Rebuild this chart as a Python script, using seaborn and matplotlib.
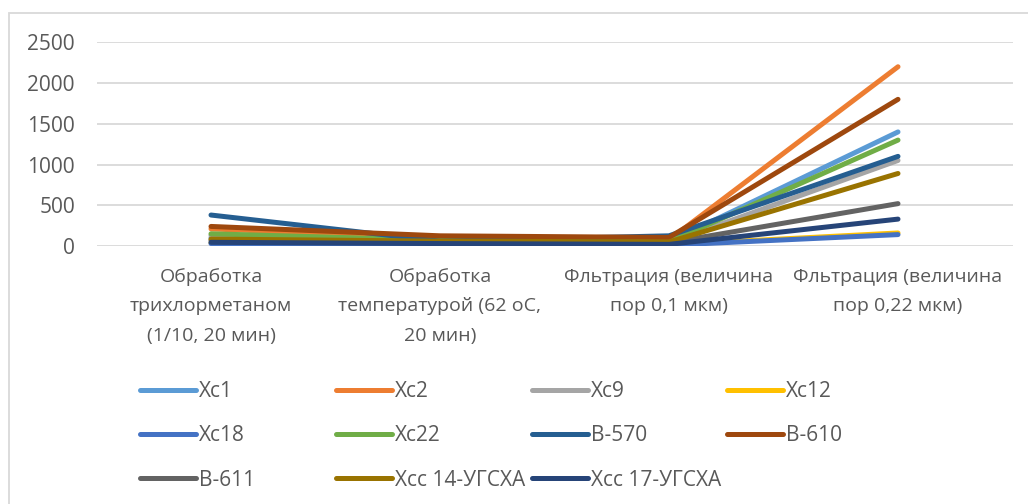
import matplotlib
matplotlib.use("Agg")
import matplotlib.pyplot as plt
from matplotlib.lines import Line2D
from matplotlib.patches import Rectangle
import seaborn as sns
import pandas as pd

# Treatment steps (x-axis categories)
categories = [
    "Обработка\nтрихлорметаном\n(1/10, 20 мин)",
    "Обработка\nтемпературой (62 оС,\n20 мин)",
    "Фльтрация (величина\nпор 0,1 мкм)",
    "Фльтрация (величина\nпор 0,22 мкм)",
]

# Strain names in drawing order
series_names = ["Xc1", "Xc2", "Xc9", "Xc12", "Xc18", "Xc22",
                "B-570", "B-610", "B-611", "Xcc 14-УГСХА", "Xcc 17-УГСХА"]

# Values for each strain across the four treatments
xc1 = [100, 60, 50, 1400]
xc2 = [210, 95, 75, 2200]
xc9 = [130, 50, 40, 1050]
xc12 = [40, 20, 15, 160]
xc18 = [30, 15, 10, 140]
xc22 = [150, 70, 50, 1300]
b570 = [380, 60, 125, 1100]
b610 = [240, 125, 105, 1800]
b611 = [70, 50, 40, 520]
xcc14 = [85, 60, 50, 890]
xcc17 = [45, 30, 20, 330]

series_values = [xc1, xc2, xc9, xc12, xc18, xc22, b570, b610, b611, xcc14, xcc17]

colors = ["#5B9BD5", "#ED7D31", "#A5A5A5", "#FFC000", "#4472C4", "#70AD47",
          "#255E91", "#9E480E", "#636363", "#997300", "#264478"]
palette = dict(zip(series_names, colors))

rows = []
for name, vals in zip(series_names, series_values):
    for i, v in enumerate(vals):
        rows.append({"pos": i, "value": v, "series": name})
df = pd.DataFrame(rows)

sns.set_theme(style="white")
plt.rcParams["font.family"] = ["Open Sans", "DejaVu Sans"]
text_color = "#595959"
grid_color = "#D9D9D9"
fs = 14
fs_big = 15

fig = plt.figure(figsize=(10.28, 5.04), dpi=100)
fig.patch.set_facecolor("white")
ax = fig.add_axes([96.5 / 1028, 1 - 246 / 504, 916 / 1028, (246 - 42.3) / 504])

sns.lineplot(data=df, x="pos", y="value", hue="series", hue_order=series_names,
             palette=palette, linewidth=3.6, sort=False, legend=False, ax=ax,
             solid_capstyle="round", solid_joinstyle="round")

ax.set_xlim(-0.5, 3.5)
ax.set_ylim(0, 2500)
ax.set_yticks([0, 500, 1000, 1500, 2000, 2500])
ax.set_xticks(range(len(categories)))
ax.set_xticklabels(categories, linespacing=1.85)
ax.set_xlabel("")
ax.set_ylabel("")
ax.yaxis.grid(True, color=grid_color, linewidth=1.3)
ax.set_axisbelow(True)
for s in ax.spines.values():
    s.set_visible(False)
ax.tick_params(axis="y", length=0, pad=15.5, labelsize=fs_big, labelcolor=text_color)
ax.tick_params(axis="x", length=0, pad=15.5, labelsize=fs, labelcolor=text_color)

# Legend laid out as four equally spaced columns
col_x = [140, 336, 532, 727]
order = [[0, 4, 8], [1, 5, 9], [2, 6, 10], [3, 7]]
for cx, idxs in zip(col_x, order):
    handles = [Line2D([], [], color=colors[i], linewidth=3.6, solid_capstyle="round")
               for i in idxs]
    labels = [series_names[i] for i in idxs]
    leg = fig.legend(handles, labels, loc="upper left",
                     bbox_to_anchor=(cx / 1028, 1 - 381 / 504),
                     frameon=False, fontsize=fs_big, borderpad=0, borderaxespad=0,
                     handlelength=2.7, handletextpad=0.12, labelspacing=1.12)
    for t in leg.get_texts():
        t.set_color(text_color)

# Chart area border
fig.patches.append(Rectangle((9.3 / 1028, -0.1), 1.2, (504 - 13.3) / 504 + 0.1,
                             transform=fig.transFigure, fill=False,
                             edgecolor=grid_color, linewidth=1.3))

fig.savefig("out.png", dpi=100)
